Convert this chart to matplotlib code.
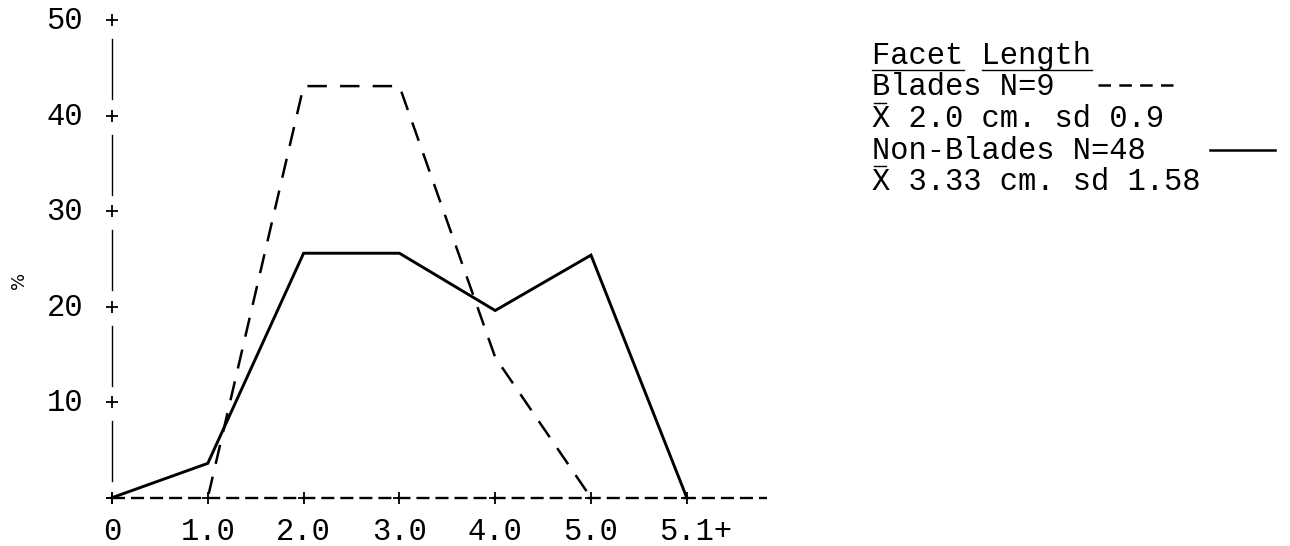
import matplotlib
matplotlib.use("Agg")
import matplotlib.pyplot as plt
from matplotlib.lines import Line2D
from matplotlib.patches import Rectangle
from matplotlib.transforms import offset_copy
import numpy as np

plt.rcParams["lines.scale_dashes"] = False
FONT = "Liberation Mono"
FS = 22

# Facet length classes (cm) and percentage of pieces in each class
categories = ["0", "1.0", "2.0", "3.0", "4.0", "5.0", "5.1+"]
blades = [0, 0, 43.1, 43.1, 14.7, 0, 0]
non_blades = [0, 3.6, 25.6, 25.6, 19.6, 25.4, 0]
y_ticks = [0, 10, 20, 30, 40, 50]
y_ticklabels = ["", "10", "20", "30", "40", "50"]

legend_title = ["Facet", "Length"]
legend_rows = ["Blades N=9", "X 2.0 cm. sd 0.9", "Non-Blades N=48", "X 3.33 cm. sd 1.58"]

W, H = 1290, 546
fig = plt.figure(figsize=(W / 100, H / 100), dpi=100)
ax = fig.add_axes([0, 0, 1, 1])
x0, dx = 112.0, 95.8     # pixel position of x=0 and pixels per class
y0, dy = 497.7, 9.55     # pixel row of y=0 and pixels per percent
ax.set_xlim(-x0 / dx, (W - x0) / dx)
ax.set_ylim(-(H - y0) / dy, y0 / dy)
ax.axis("off")

x = np.arange(len(categories))

# dashed base line running past the last class
ax.plot([0, 6.84], [0, 0], color="black", lw=1.7, dashes=(9.4, 4.3), solid_capstyle="butt")

# vertical axis drawn as segments broken at each tick
for lo in y_ticks[:-1]:
    ax.plot([0, 0], [lo + 1.7, lo + 8.0], color="black", lw=1.0)
ax.plot(np.zeros(len(y_ticks)), y_ticks, ls="none", marker="+", ms=9, mew=1.3, color="black")
ax.plot(x, np.zeros(len(x)), ls="none", marker="+", ms=9, mew=1.3, color="black")

# series
ax.plot(x, non_blades, color="black", lw=2.1, solid_joinstyle="miter")
bl, = ax.plot(x, blades, color="black", lw=1.8, dashes=(14, 9.5))
bl.set_clip_path(Rectangle((-2, 0.35), 20, 100, transform=ax.transData))

# tick labels
adv = 0.6 * FS * 100 / 72  # monospace advance in pixels
for yv, lab in zip(y_ticks, y_ticklabels):
    if lab:
        tr = offset_copy(ax.transData, fig=fig, x=-29, y=-9, units="dots")
        ax.text(0, yv, lab, transform=tr, ha="right", va="baseline",
                family=FONT, fontsize=FS)
for xi, lab in zip(x, categories):
    n = len(lab.rstrip("+"))
    tr = offset_copy(ax.transData, fig=fig, x=-n * adv / 2, y=-42.3, units="dots")
    ax.text(xi, 0, lab, transform=tr, ha="left", va="baseline", family=FONT, fontsize=FS)

# y label
fig.text(19 / W, 1 - 280 / H, "%", rotation=90, ha="center", va="center",
         family="DejaVu Sans", fontsize=13)


def P(px, py):
    return px / W, 1 - py / H


# legend block
lx = 872
fig.text(*P(lx, 64), " ".join(legend_title), family=FONT, fontsize=FS, va="baseline")
col = 0
for word in legend_title:
    fig.add_artist(Line2D([P(lx + col * adv, 0)[0], P(lx + (col + len(word)) * adv, 0)[0]],
                          [P(0, 70)[1]] * 2, color="black", lw=1.0))
    col += len(word) + 1

row_base = [95, 127, 159, 190]
for txt, yb in zip(legend_rows, row_base):
    fig.text(*P(lx, yb), txt, family=FONT, fontsize=FS, va="baseline")
    if txt.startswith("X "):
        fig.add_artist(Line2D([P(lx + 2, 0)[0], P(lx + adv - 4, 0)[0]],
                              [P(0, yb - 24)[1]] * 2, color="black", lw=1.0))

fig.add_artist(Line2D([P(1098, 0)[0], P(1178, 0)[0]], [P(0, 85)[1]] * 2,
                      color="black", lw=1.8, dashes=(9, 6)))
fig.add_artist(Line2D([P(1210, 0)[0], P(1275, 0)[0]], [P(0, 150)[1]] * 2,
                      color="black", lw=1.8))

fig.savefig("out.png", dpi=100, facecolor="white")
